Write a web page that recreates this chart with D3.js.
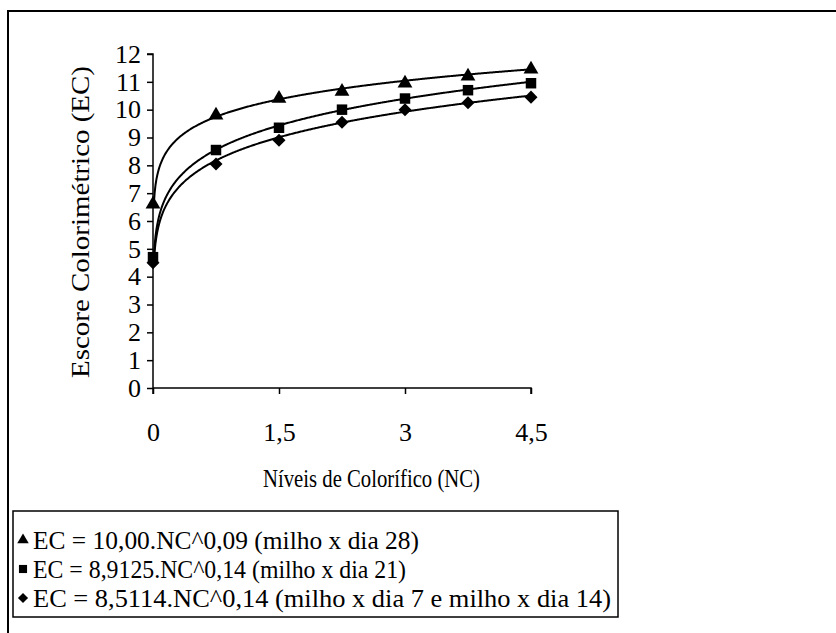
<!DOCTYPE html>
<html>
<head>
<meta charset="utf-8">
<script src="https://cdn.jsdelivr.net/npm/d3@7"></script>
<style>
  body { margin: 0; background: #fff; }
</style>
</head>
<body>
<div id="chart"></div>
<script>
// niveis de colorifico (NC)
const nc = [0, 0.75, 1.5, 2.25, 3, 3.75, 4.5];
const xTicks = [0, 1.5, 3, 4.5];
const xTickLabels = ["0", "1,5", "3", "4,5"];
const yTicks = d3.range(0, 13);

// escore colorimetrico
const dia28 = [6.6, 9.8, 10.4, 10.65, 10.95, 11.2, 11.45];
const dia21 = [4.7, 8.55, 9.35, 10.0, 10.4, 10.7, 10.95];
const dia7e14 = [4.5, 8.05, 8.9, 9.55, 10.0, 10.25, 10.45];

// coeficientes das curvas ajustadas (legenda)
const coefA = [10.00, 8.9125, 8.5114];
const coefB = [0.09, 0.14, 0.14];
const labels = [
  "EC = 10,00.NC^0,09 (milho x dia 28)",
  "EC = 8,9125.NC^0,14 (milho x dia 21)",
  "EC = 8,5114.NC^0,14 (milho x dia 7 e milho x dia 14)"
];
const labelWidths = [386, 373, 578];

const FONT = "'Liberation Serif'";
const W = 836, H = 633;
const svg = d3.select("#chart").append("svg")
  .attr("width", W).attr("height", H);

// moldura externa
svg.append("rect")
  .attr("x", 8).attr("y", 11)
  .attr("width", 840).attr("height", 640)
  .attr("fill", "none").attr("stroke", "#000").attr("stroke-width", 2);

const x = d3.scaleLinear().domain([0, 4.5]).range([153, 531]);
const y = d3.scaleLinear().domain([0, 12]).range([388, 54]);

const xAxis = svg.append("g")
  .attr("transform", "translate(0," + y(0) + ")")
  .call(d3.axisBottom(x).tickValues(xTicks)
    .tickFormat((d, i) => xTickLabels[i]).tickSize(6).tickPadding(29));
const yAxis = svg.append("g")
  .attr("transform", "translate(" + x(0) + ",0)")
  .call(d3.axisLeft(y).tickValues(yTicks).tickSize(6).tickPadding(6));

[xAxis, yAxis].forEach(g => {
  g.attr("font-family", null);
  g.select(".domain").attr("stroke-width", 1.5);
  g.selectAll(".tick line").attr("stroke-width", 1.5);
  g.selectAll("text").attr("font-size", 26).attr("fill", "#000")
    .style("font-family", FONT);
});
xAxis.select(".domain").attr("d", "M" + x(0) + ",0H" + x(4.5) + "V6");
yAxis.select(".domain").attr("d", "M-6," + y(12) + "H0V" + (y(0) + 6));

svg.append("text")
  .attr("x", 263).attr("y", 487)
  .attr("font-size", 26).style("font-family", FONT)
  .attr("textLength", 217).attr("lengthAdjust", "spacingAndGlyphs")
  .text("Níveis de Colorífico (NC)");

svg.append("text")
  .attr("transform", "translate(89,378) rotate(-90)")
  .attr("font-size", 26).style("font-family", FONT)
  .attr("textLength", 312).attr("lengthAdjust", "spacingAndGlyphs")
  .text("Escore Colorimétrico (EC)");

// curvas ajustadas
const fitX = d3.range(0.01, 4.5001, 0.01);
const line = d3.line().x(d => x(d[0])).y(d => y(d[1]));
coefA.forEach((a, i) => {
  svg.append("path")
    .datum(fitX.map(v => [v, a * Math.pow(v, coefB[i])]))
    .attr("d", line)
    .attr("fill", "none").attr("stroke", "#000").attr("stroke-width", 2);
});

// simbolos: triangulo, quadrado, losango
const markers = [
  { type: d3.symbolTriangle, size: 95, rot: 0 },
  { type: d3.symbolSquare, size: 110, rot: 0 },
  { type: d3.symbolSquare, size: 85, rot: 45 }
];

const series = [dia28, dia21, dia7e14];
series.forEach((vals, i) => {
  const m = markers[i];
  svg.append("g").selectAll("path")
    .data(vals)
    .enter().append("path")
    .attr("transform", (d, j) => "translate(" + x(nc[j]) + "," + y(d) + ") rotate(" + m.rot + ")")
    .attr("d", d3.symbol().type(m.type).size(m.size))
    .attr("fill", "#000");
});

// legenda
const leg = svg.append("g");
leg.append("rect")
  .attr("x", 13).attr("y", 511).attr("width", 605).attr("height", 106)
  .attr("fill", "#fff").attr("stroke", "#000").attr("stroke-width", 1.5);
labels.forEach((t, i) => {
  const cy = 540 + i * 29;
  const m = markers[i];
  leg.append("path")
    .attr("transform", "translate(23," + cy + ") rotate(" + m.rot + ")")
    .attr("d", d3.symbol().type(m.type).size(m.size * 0.6))
    .attr("fill", "#000");
  leg.append("text")
    .attr("x", 33).attr("y", cy + 9)
    .attr("font-size", 25).style("font-family", FONT)
    .attr("textLength", labelWidths[i]).attr("lengthAdjust", "spacingAndGlyphs")
    .text(t);
});
</script>
</body>
</html>
